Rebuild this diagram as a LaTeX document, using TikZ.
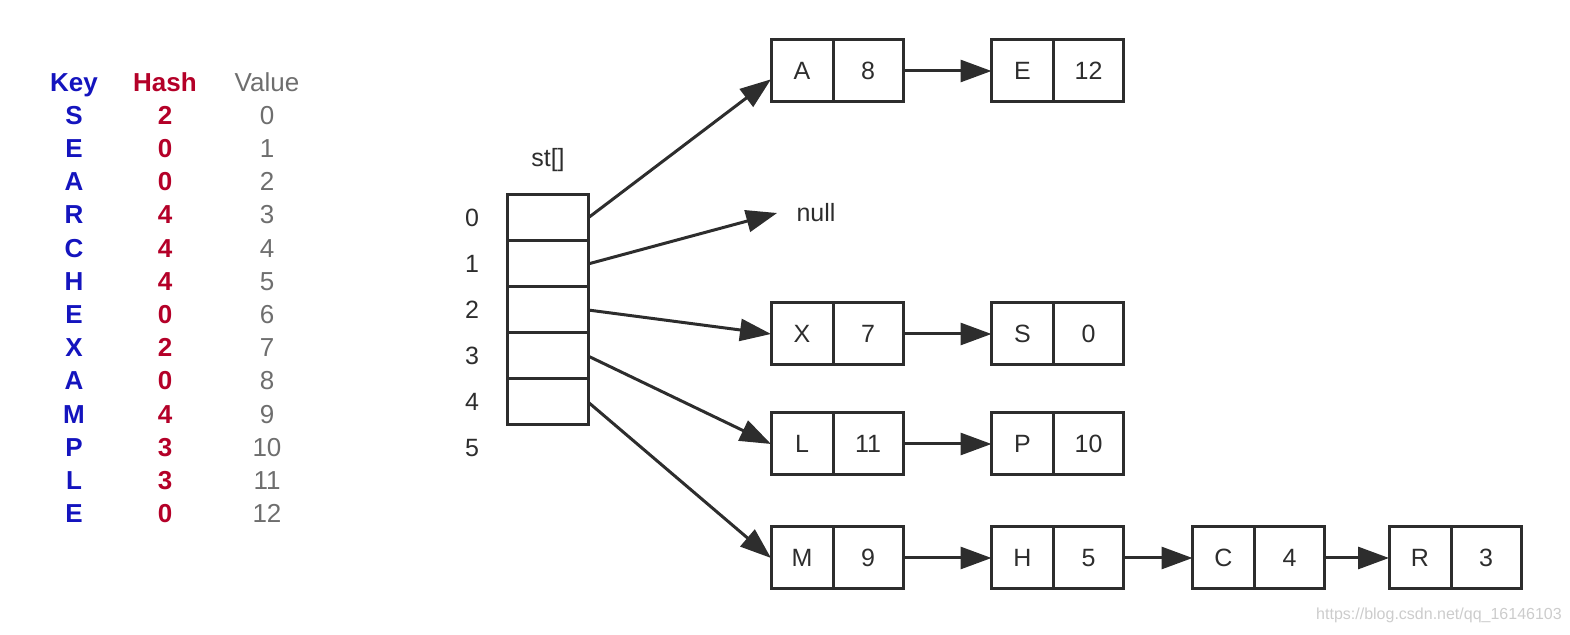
\documentclass[tikz,border=0pt]{standalone}
\usepackage{xcolor}
\usepackage{fontspec}
\setmainfont{Liberation Sans}
\usepackage{tikz}
\usetikzlibrary{positioning,arrows.meta}

\definecolor{keyblue}{RGB}{20,20,190}
\definecolor{hashred}{RGB}{180,0,40}
\definecolor{valgray}{RGB}{110,110,110}
\definecolor{ink}{RGB}{45,45,45}

\tikzset{
  keycell/.style={draw=ink, line width=1.5pt, minimum width=31pt, minimum height=31pt,
    inner sep=0pt, outer sep=0pt, text=ink, font=\fontsize{12.5}{15}\selectfont},
  valcell/.style={keycell, minimum width=35pt},
  slot/.style={draw=ink, line width=1.5pt, minimum width=40.5pt, minimum height=23pt, outer sep=0pt},
  link/.style={draw=ink, line width=1.5pt, -{Triangle[length=15.5pt,width=11pt]}},
  idx/.style={text=ink, font=\fontsize{12.5}{15}\selectfont},
  tabtxt/.style={text height=0.72em, text depth=0pt},
  keytxt/.style={tabtxt, text=keyblue, font=\fontsize{13}{15}\selectfont\bfseries},
  hashtxt/.style={tabtxt, text=hashred, font=\fontsize{13}{15}\selectfont\bfseries},
  valtxt/.style={tabtxt, text=valgray, font=\fontsize{13}{15}\selectfont}
}

\begin{document}
\begin{tikzpicture}[x=0.5pt, y=-0.5pt]
            \useasboundingbox (0,0) rectangle (1570,635);

            \node[keytxt] (keyhead) at (74,84) {Key};
            \node[hashtxt] (hashhead) at (165,84) {Hash};
            \node[valtxt] (valhead) at (267,84) {Value};

            \node[keytxt] (k0) at (74,117) {S};  \node[hashtxt] (h0) at (165,117) {2}; \node[valtxt] (v0) at (267,117) {0};
            \node[keytxt] (k1) at (74,150) {E};  \node[hashtxt] (h1) at (165,150) {0}; \node[valtxt] (v1) at (267,150) {1};
            \node[keytxt] (k2) at (74,183) {A};  \node[hashtxt] (h2) at (165,183) {0}; \node[valtxt] (v2) at (267,183) {2};
            \node[keytxt] (k3) at (74,216) {R};  \node[hashtxt] (h3) at (165,216) {4}; \node[valtxt] (v3) at (267,216) {3};
            \node[keytxt] (k4) at (74,250) {C};  \node[hashtxt] (h4) at (165,250) {4}; \node[valtxt] (v4) at (267,250) {4};
            \node[keytxt] (k5) at (74,283) {H};  \node[hashtxt] (h5) at (165,283) {4}; \node[valtxt] (v5) at (267,283) {5};
            \node[keytxt] (k6) at (74,316) {E};  \node[hashtxt] (h6) at (165,316) {0}; \node[valtxt] (v6) at (267,316) {6};
            \node[keytxt] (k7) at (74,349) {X};  \node[hashtxt] (h7) at (165,349) {2}; \node[valtxt] (v7) at (267,349) {7};
            \node[keytxt] (k8) at (74,382) {A};  \node[hashtxt] (h8) at (165,382) {0}; \node[valtxt] (v8) at (267,382) {8};
            \node[keytxt] (k9) at (74,416) {M};  \node[hashtxt] (h9) at (165,416) {4}; \node[valtxt] (v9) at (267,416) {9};
            \node[keytxt] (k10) at (74,449) {P}; \node[hashtxt] (h10) at (165,449) {3}; \node[valtxt] (v10) at (267,449) {10};
            \node[keytxt] (k11) at (74,482) {L}; \node[hashtxt] (h11) at (165,482) {3}; \node[valtxt] (v11) at (267,482) {11};
            \node[keytxt] (k12) at (74,515) {E}; \node[hashtxt] (h12) at (165,515) {0}; \node[valtxt] (v12) at (267,515) {12};

            \node[idx] (stname) at (548,160) {st[]};
            \node[slot] (st0) at (547.5,218) {};
            \node[slot, below=0pt of st0] (st1) {};
            \node[slot, below=0pt of st1] (st2) {};
            \node[slot, below=0pt of st2] (st3) {};
            \node[slot, below=0pt of st3] (st4) {};

            \node[idx] (i0) at (472,218) {0};
            \node[idx] (i1) at (472,264) {1};
            \node[idx] (i2) at (472,310) {2};
            \node[idx] (i3) at (472,356) {3};
            \node[idx] (i4) at (472,402) {4};
            \node[idx] (i5) at (472,448) {5};

            \node[keycell] (kA) at (802,71) {A};   \node[valcell, right=0pt of kA] (vA) {8};
            \node[keycell] (kE) at (1022.5,71) {E}; \node[valcell, right=0pt of kE] (vE) {12};

            \node[idx, inner xsep=9.5pt] (null) at (816,213) {null};

            \node[keycell] (kX) at (802,334) {X};   \node[valcell, right=0pt of kX] (vX) {7};
            \node[keycell] (kS) at (1022.5,334) {S}; \node[valcell, right=0pt of kS] (vS) {0};

            \node[keycell] (kL) at (802,444) {L};   \node[valcell, right=0pt of kL] (vL) {11};
            \node[keycell] (kP) at (1022.5,444) {P}; \node[valcell, right=0pt of kP] (vP) {10};

            \node[keycell] (kM) at (802,558) {M};    \node[valcell, right=0pt of kM] (vM) {9};
            \node[keycell] (kH) at (1022.5,558) {H};  \node[valcell, right=0pt of kH] (vH) {5};
            \node[keycell] (kC) at (1223.5,558) {C};  \node[valcell, right=0pt of kC] (vC) {4};
            \node[keycell] (kR) at (1420,558) {R};    \node[valcell, right=0pt of kR] (vR) {3};

            \draw[link] (st0.east) -- (kA.195);
            \draw[link] (st1.east) -- (null.west);
            \draw[link] (st2.east) -- (kX.west);
            \draw[link] (st3.east) -- (kL.west);
            \draw[link] (st4.east) -- (kM.west);

            \draw[link] (vA) -- (kE);
            \draw[link] (vX) -- (kS);
            \draw[link] (vL) -- (kP);
            \draw[link] (vM) -- (kH);
            \draw[link] (vH) -- (kC);
            \draw[link] (vC) -- (kR);

            \node[text=black!20, font=\fontsize{8}{10}\selectfont] (mark) at (1439,615) {https://blog.csdn.net/qq\_16146103};
         \end{tikzpicture}
\end{document}
